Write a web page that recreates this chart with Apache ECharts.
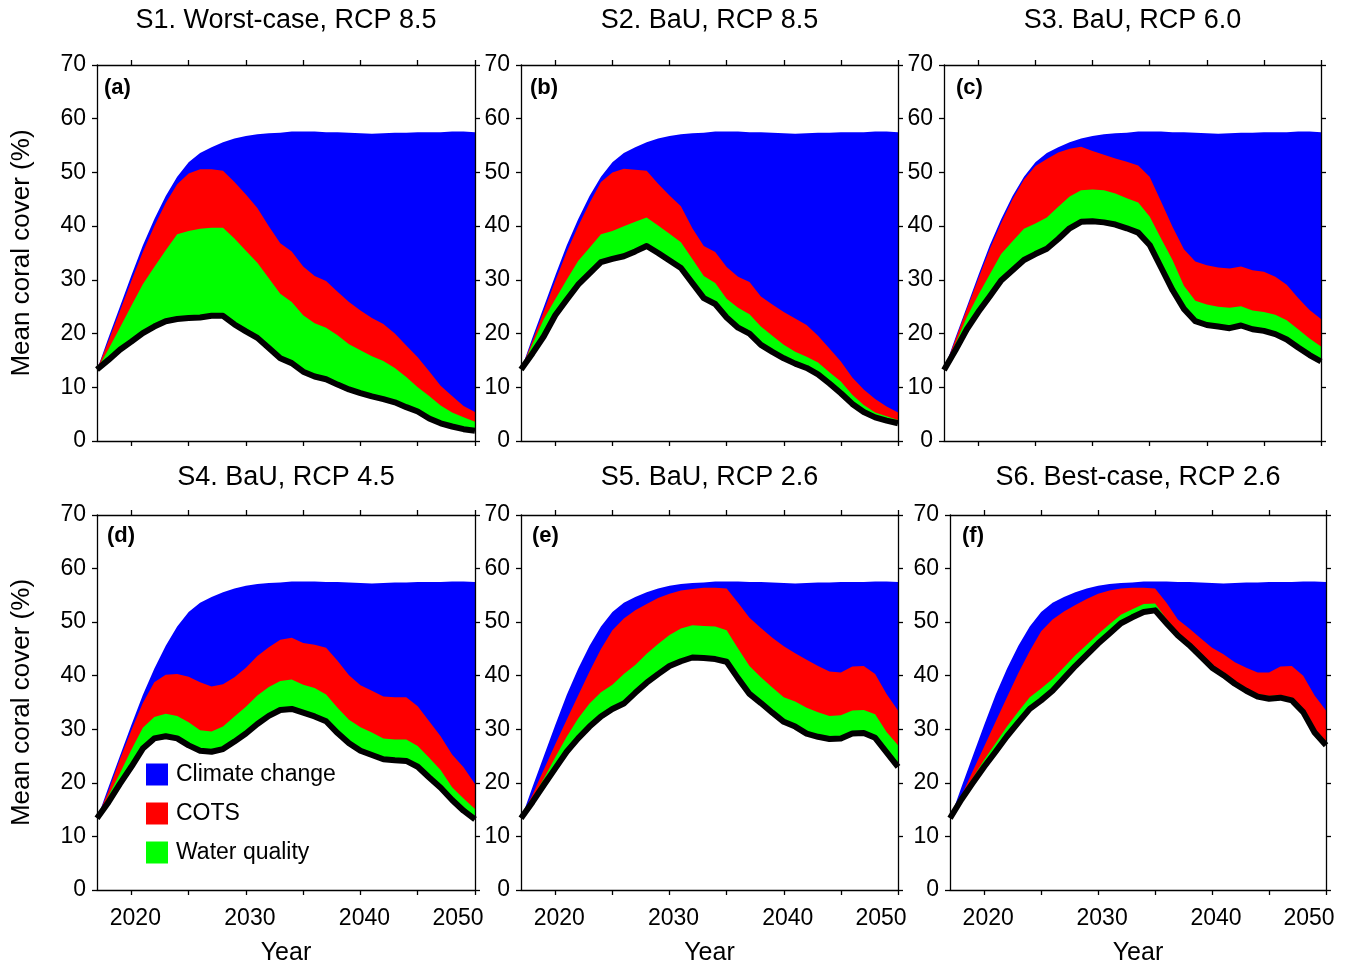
<!DOCTYPE html>
<html>
<head>
<meta charset="utf-8">
<script src="https://cdn.jsdelivr.net/npm/echarts@6/dist/echarts.min.js"></script>
<style>
  html, body { margin: 0; background: #fff; }
  #main { width: 1354px; height: 967px; }
</style>
</head>
<body>
<div id="main"></div>
<script>
// years of the simulation
const years = [2017, 2018, 2019, 2020, 2021, 2022, 2023, 2024, 2025, 2026, 2027, 2028,
  2029, 2030, 2031, 2032, 2033, 2034, 2035, 2036, 2037, 2038, 2039, 2040, 2041, 2042,
  2043, 2044, 2045, 2046, 2047, 2048, 2049, 2050];
const tickYears = [2020, 2025, 2030, 2035, 2040, 2045, 2050];
const labelYears = [2020, 2030, 2040, 2050];

// cover without any disturbance (top of the blue band), same in every scenario
const potential = [13.2, 19.2, 25, 30.8, 36.4, 41.3, 45.6, 49.2, 51.9, 53.6, 54.7, 55.6,
  56.3, 56.8, 57.1, 57.3, 57.4, 57.6, 57.6, 57.6, 57.5, 57.5, 57.4, 57.3, 57.2, 57.3,
  57.4, 57.4, 57.5, 57.5, 57.5, 57.6, 57.6, 57.5];

// S1 : cover (black line), + water quality loss (green top), + COTS loss (red top)
const coverA = [13.3, 15.1, 17, 18.5, 20.1, 21.3, 22.3, 22.7, 22.9, 23, 23.3, 23.3,
  21.7, 20.4, 19.2, 17.3, 15.4, 14.5, 12.9, 12, 11.5, 10.5, 9.6, 8.9, 8.3, 7.8, 7.2, 6.3, 5.5, 4.2, 3.3, 2.7, 2.2, 1.9];
const wqA = [13.3, 17.1, 21.1, 25.2, 29.2, 32.4, 35.5, 38.5, 39.1, 39.5, 39.7, 39.7,
  37.7, 35.4, 33.2, 30.3, 27.4, 25.9, 23.4, 21.9, 21.1, 19.7, 18, 16.9, 15.8, 14.9, 13.6, 11.9, 10, 8.4, 6.6, 5.3, 4.4, 3.6];
const cotsA = [13.3, 18.6, 24.2, 29.8, 35.2, 40, 44.3, 47.8, 49.8, 50.6, 50.6, 50.3,
  48.2, 45.9, 43.4, 40, 36.8, 35.3, 32.5, 30.7, 29.8, 27.8, 25.9, 24.3, 22.9, 21.8, 20, 17.8, 15.6, 13, 10.3, 8.4, 6.5, 5.4];

// S2
const coverB = [13.3, 16.3, 19.5, 23.4, 26.3, 29.1, 31.2, 33.3, 33.9, 34.4, 35.3, 36.3,
  35, 33.6, 32.2, 29.4, 26.6, 25.5, 23, 21.1, 20, 17.9, 16.6, 15.4, 14.4, 13.6, 12.4, 10.7, 8.9, 6.9, 5.4, 4.4, 3.8, 3.3];
const wqB = [13.3, 18, 22.7, 26.4, 30, 33.5, 36, 38.5, 39.1, 40, 40.8, 41.6,
  40.1, 38.6, 37, 33.9, 30.7, 29.4, 26.5, 24.8, 23.6, 21.3, 19.6, 17.9, 16.6, 15.7, 14.6, 12.8, 11.1, 8.6, 6.7, 5.3, 4.6, 3.9];
const cotsB = [13.3, 18.6, 24.2, 29.8, 35.2, 40, 44.3, 48.2, 50, 50.7, 50.5, 50.3,
  47.9, 45.7, 43.7, 39.6, 36.3, 35.2, 32.4, 30.6, 29.6, 26.9, 25.4, 24, 22.8, 21.6, 19.6, 17.2, 14.8, 11.8, 9.6, 7.8, 6.4, 5.3];

// S3
const coverC = [13.2, 16.9, 20.8, 24, 26.9, 29.9, 31.8, 33.7, 34.8, 35.8, 37.6, 39.6,
  40.8, 40.9, 40.7, 40.3, 39.6, 38.8, 36.5, 32.3, 28.1, 24.6, 22.3, 21.6, 21.3, 21, 21.5, 20.8, 20.5, 19.9, 18.9, 17.4, 16, 14.8];
const wqC = [13.2, 18.1, 23.1, 27.2, 31, 34.8, 37.2, 39.5, 40.5, 41.6, 43.6, 45.5,
  46.7, 46.8, 46.7, 46.1, 45.2, 44.4, 41.8, 37.7, 33.7, 28.9, 26.1, 25.4, 25, 24.8, 25.1, 24.3, 24, 23.5, 22.5, 20.8, 19.1, 17.6];
const cotsC = [13.2, 18.9, 24.6, 30.2, 35.7, 40.6, 45, 48.7, 51.2, 52.5, 53.7, 54.4,
  54.8, 54, 53.3, 52.6, 52, 51.3, 49.2, 44.6, 39.9, 35.7, 33.4, 32.7, 32.3, 32.1, 32.5, 31.8, 31.5, 30.6, 29.1, 26.6, 24.4, 22.7];

// S4
const coverD = [13.4, 16.4, 19.8, 23, 26.4, 28.3, 28.7, 28.3, 27, 26, 25.8, 26.3,
  27.7, 29.2, 31, 32.5, 33.6, 33.8, 33.1, 32.4, 31.5, 29.3, 27.4, 26, 25.2, 24.4, 24.2, 24.1, 23, 21, 19.1, 16.8, 14.8, 13.2];
const wqD = [13.4, 17.6, 21.8, 26.2, 30.3, 32.3, 32.9, 32.5, 31.3, 29.8, 29.6, 30.5,
  32.4, 34.2, 36.3, 37.9, 39, 39.3, 38.3, 37.7, 36.5, 34, 31.8, 30.4, 29.4, 28.3, 28.1, 28.1, 26.9, 24.7, 22.4, 19.2, 17.1, 15.1];
const cotsD = [13.4, 18.5, 24.4, 29.8, 34.9, 38.8, 40.2, 40.3, 39.8, 38.8, 38, 38.4,
  39.7, 41.5, 43.7, 45.3, 46.7, 47.1, 46.1, 45.8, 45.2, 42.8, 40.1, 38.2, 37.2, 36.1, 36, 36, 34.3, 31.5, 28.7, 25.3, 22.9, 19.8];

// S5
const coverE = [13.4, 16.4, 19.6, 22.7, 25.8, 28.3, 30.5, 32.4, 33.8, 34.8, 36.8, 38.7,
  40.3, 41.8, 42.7, 43.4, 43.3, 43.1, 42.6, 39.5, 36.6, 34.9, 33.1, 31.4, 30.5, 29.2, 28.6, 28.2, 28.3, 29.2, 29.3, 28.4, 25.7, 23];
const wqE = [13.4, 17.1, 20.8, 24.8, 28.6, 32, 34.8, 36.9, 38.3, 40.3, 42, 44.1,
  45.9, 47.6, 48.8, 49.4, 49.3, 49.2, 48.5, 45.1, 41.8, 39.7, 37.8, 36, 35.2, 34, 33.2, 32.5, 32.6, 33.5, 33.6, 32.8, 29.5, 27];
const cotsE = [13.4, 17.8, 22.5, 27.2, 31.8, 36.3, 40.8, 45, 48.5, 50.7, 52.2, 53.4,
  54.5, 55.3, 55.9, 56.2, 56.4, 56.4, 56.3, 53.6, 50.8, 48.9, 47.1, 45.5, 44.2, 43, 41.8, 40.8, 40.6, 41.7, 41.8, 40.3, 36.6, 33.5];

// S6
const coverF = [13.4, 16.9, 20, 23, 25.8, 28.7, 31.3, 33.8, 35.4, 37.2, 39.5, 41.8,
  43.9, 46, 47.9, 49.8, 50.9, 51.9, 52.2, 49.8, 47.5, 45.7, 43.6, 41.5, 40.1, 38.5, 37.2, 36.1, 35.7, 35.9, 35.4, 33.2, 29.4, 27];
const wqF = [13.4, 17.4, 20.9, 24.3, 27.4, 30.5, 33.3, 36, 37.6, 39.4, 41.6, 43.8,
  45.8, 47.8, 49.6, 51.4, 52.4, 53.4, 53.5, 50.6, 48.1, 46.2, 44.1, 42, 40.6, 39, 37.7, 36.6, 36.2, 36.4, 35.9, 33.6, 29.7, 27.3];
const cotsF = [13.4, 17.6, 22.2, 26.8, 31.4, 36, 40.5, 44.6, 48.3, 50.5, 52, 53.2,
  54.3, 55.3, 55.9, 56.3, 56.4, 56.4, 56.3, 53.6, 50.5, 48.8, 47, 45.2, 44, 42.5, 41.5, 40.6, 40.6, 41.7, 41.8, 40, 36.3, 33.5];

const panels = [
  { title: 'S1. Worst-case, RCP 8.5', tag: '(a)', cover: coverA, wq: wqA, cots: cotsA },
  { title: 'S2. BaU, RCP 8.5', tag: '(b)', cover: coverB, wq: wqB, cots: cotsB },
  { title: 'S3. BaU, RCP 6.0', tag: '(c)', cover: coverC, wq: wqC, cots: cotsC },
  { title: 'S4. BaU, RCP 4.5', tag: '(d)', cover: coverD, wq: wqD, cots: cotsD },
  { title: 'S5. BaU, RCP 2.6', tag: '(e)', cover: coverE, wq: wqE, cots: cotsE },
  { title: 'S6. Best-case, RCP 2.6', tag: '(f)', cover: coverF, wq: wqF, cots: cotsF }
];

// plot boxes (pixels)
const boxes = [
  { left: 97, top: 65, width: 378, tagDx: 7, tagTop: 77 },
  { left: 521, top: 65, width: 377, tagDx: 9, tagTop: 77 },
  { left: 944, top: 65, width: 377, tagDx: 12, tagTop: 77 },
  { left: 97, top: 515, width: 378, tagDx: 10, tagTop: 525 },
  { left: 521, top: 515, width: 377, tagDx: 11, tagTop: 525 },
  { left: 950, top: 515, width: 376, tagDx: 12, tagTop: 525 }
];
const plotH = 376;
const FONT = 'Liberation Sans, Arial, Helvetica, sans-serif';
const AX = { color: '#000', width: 1.3 };

const pairs = arr => arr.map((v, k) => [years[k], v]);

const grid = [], xAxis = [], yAxis = [], series = [], title = [];

panels.forEach((p, i) => {
  const b = boxes[i];
  const row = Math.floor(i / 3), col = i % 3;
  grid.push({ left: b.left, top: b.top, width: b.width, height: plotH });

  xAxis.push({
    gridIndex: i, type: 'value', min: 2017, max: 2050, position: 'bottom', z: 10,
    axisLine: { show: true, onZero: false, lineStyle: AX },
    axisTick: { show: true, length: 5, customValues: tickYears, lineStyle: AX },
    axisLabel: {
      show: row === 1, customValues: labelYears, color: '#000', fontSize: 23, margin: 17,
      formatter: v => (v === 2050 ? '{e|' + v + '}' : '{n|' + v + '}'),
      rich: { n: { fontSize: 23, padding: [0, 0, 0, 8] }, e: { fontSize: 23, padding: [0, 34, 0, 0] } }
    },
    splitLine: { show: false },
    name: row === 1 ? 'Year' : '', nameLocation: 'middle', nameGap: 51,
    nameTextStyle: { fontSize: 25, color: '#000' }
  });
  xAxis.push({
    gridIndex: i, type: 'value', min: 2017, max: 2050, position: 'top', z: 10,
    axisLine: { show: true, onZero: false, lineStyle: AX },
    axisTick: { show: true, length: 5, customValues: tickYears, lineStyle: AX },
    axisLabel: { show: false }, splitLine: { show: false }
  });
  yAxis.push({
    gridIndex: i, type: 'value', min: 0, max: 70, interval: 10, position: 'left', z: 10,
    axisLine: { show: true, onZero: false, lineStyle: AX },
    axisTick: { show: true, length: 5, lineStyle: AX },
    axisLabel: { color: '#000', fontSize: 23, margin: 11 },
    splitLine: { show: false },
    name: col === 0 ? 'Mean coral cover (%)' : '', nameLocation: 'middle', nameGap: 62,
    nameTextStyle: { fontSize: 26, color: '#000' }
  });
  yAxis.push({
    gridIndex: i, type: 'value', min: 0, max: 70, interval: 10, position: 'right', z: 10,
    axisLine: { show: true, onZero: false, lineStyle: AX },
    axisTick: { show: true, length: 5, lineStyle: AX },
    axisLabel: { show: false }, splitLine: { show: false }
  });

  const ax = { xAxisIndex: 2 * i, yAxisIndex: 2 * i };
  // filled layers drawn from 0 up to each boundary, later ones painted over earlier ones
  const layer = (name, color, arr) => Object.assign({
    name, type: 'line', data: pairs(arr), symbol: 'none', silent: true,
    lineStyle: { width: 0 }, itemStyle: { color },
    areaStyle: { color, opacity: 1, origin: 'start' }
  }, ax);

  series.push(layer('Climate change', '#0000ff', potential));
  series.push(layer('COTS', '#ff0000', p.cots));
  series.push(layer('Water quality', '#00ff00', p.wq));
  series.push(layer('cover fill', '#ffffff', p.cover));
  series.push(Object.assign({
    type: 'line', data: pairs(p.cover), symbol: 'none', silent: true,
    lineStyle: { width: 6, color: '#000', join: 'round' }
  }, ax));

  title.push({
    text: p.title, left: b.left + b.width / 2, top: row === 0 ? 7 : 464, textAlign: 'center', padding: 0,
    textStyle: { fontSize: 27, fontWeight: 'normal', color: '#000', fontFamily: FONT }
  });
  title.push({
    text: p.tag, left: b.left + b.tagDx, top: b.tagTop, padding: 0,
    textStyle: { fontSize: 22, fontWeight: 'bold', color: '#000', fontFamily: FONT }
  });
});

const chart = echarts.init(document.getElementById('main'));
chart.setOption({
  animation: false,
  backgroundColor: '#fff',
  textStyle: { fontFamily: FONT },
  title,
  legend: {
    data: ['Climate change', 'COTS', 'Water quality'],
    orient: 'vertical', left: 146, top: 763, itemWidth: 22, itemHeight: 22, itemGap: 16,
    icon: 'rect', padding: 0,
    textStyle: { fontSize: 23, color: '#000', padding: [0, 0, 0, 3] }
  },
  grid, xAxis, yAxis, series
});
</script>
</body>
</html>
